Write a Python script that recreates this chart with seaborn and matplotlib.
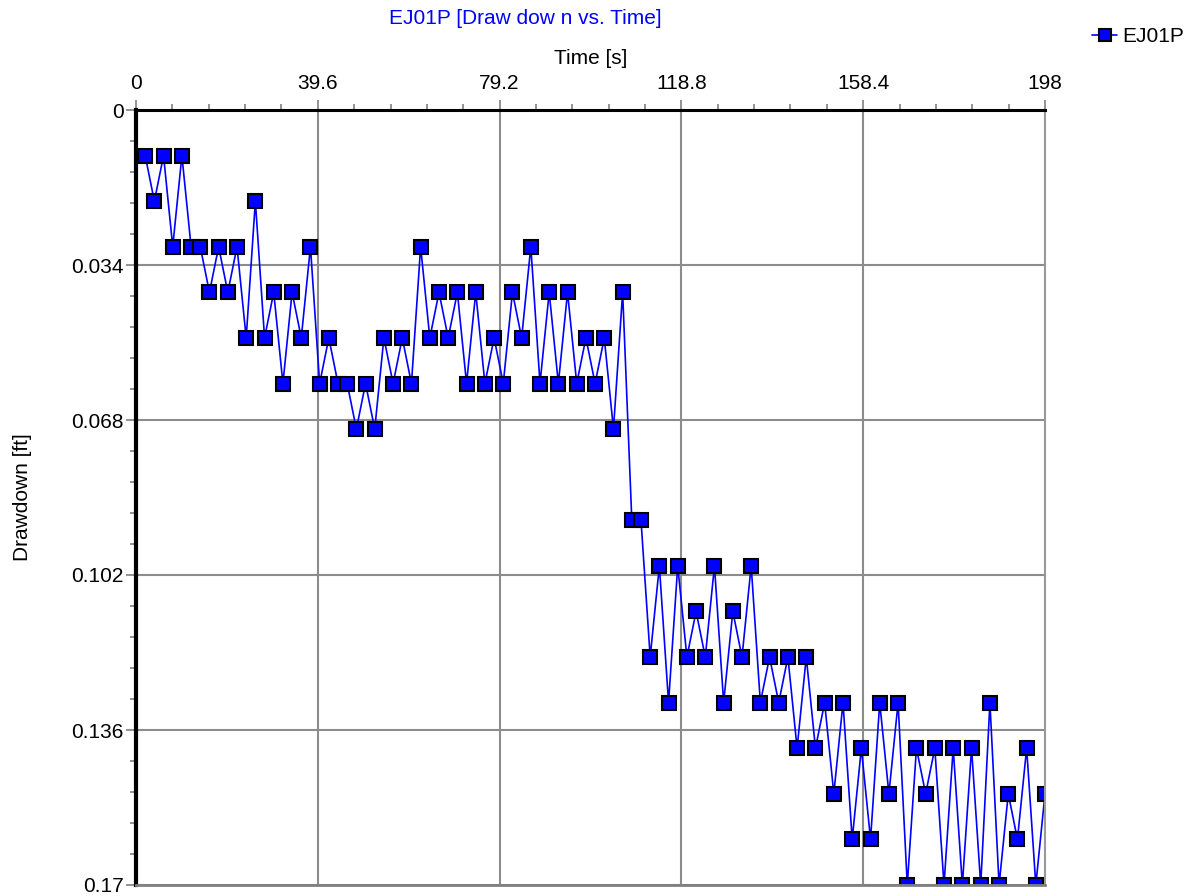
import matplotlib
matplotlib.use("Agg")
import matplotlib.pyplot as plt
import pandas as pd
import seaborn as sns
from matplotlib.ticker import AutoMinorLocator

# sample times [s] and drawdown [ft]
time_s = [
    2, 4, 6, 8, 10, 12, 14, 16, 18, 20, 22, 24, 26, 28, 30, 32, 34, 36, 38, 40,
    42, 44, 46, 48, 50, 52, 54, 56, 58, 60, 62, 64, 66, 68, 70, 72, 74, 76, 78, 80,
    82, 84, 86, 88, 90, 92, 94, 96, 98, 100, 102, 104, 106, 108, 110, 112, 114, 116, 118, 120,
    122, 124, 126, 128, 130, 132, 134, 136, 138, 140, 142, 144, 146, 148, 150, 152, 154, 156, 158, 160,
    162, 164, 166, 168, 170, 172, 174, 176, 178, 180, 182, 184, 186, 188, 190, 192, 194, 196, 198,
]
drawdown_ft = [
    0.01, 0.02, 0.01, 0.03, 0.01, 0.03, 0.03, 0.04, 0.03, 0.04,
    0.03, 0.05, 0.02, 0.05, 0.04, 0.06, 0.04, 0.05, 0.03, 0.06,
    0.05, 0.06, 0.06, 0.07, 0.06, 0.07, 0.05, 0.06, 0.05, 0.06,
    0.03, 0.05, 0.04, 0.05, 0.04, 0.06, 0.04, 0.06, 0.05, 0.06,
    0.04, 0.05, 0.03, 0.06, 0.04, 0.06, 0.04, 0.06, 0.05, 0.06,
    0.05, 0.07, 0.04, 0.09, 0.09, 0.12, 0.10, 0.13, 0.10, 0.12,
    0.11, 0.12, 0.10, 0.13, 0.11, 0.12, 0.10, 0.13, 0.12, 0.13,
    0.12, 0.14, 0.12, 0.14, 0.13, 0.15, 0.13, 0.16, 0.14, 0.16,
    0.13, 0.15, 0.13, 0.17, 0.14, 0.15, 0.14, 0.17, 0.14, 0.17,
    0.14, 0.17, 0.13, 0.17, 0.15, 0.16, 0.14, 0.17, 0.15,
]

x_ticks = [0, 39.6, 79.2, 118.8, 158.4, 198]
x_tick_labels = ["0", "39.6", "79.2", "118.8", "158.4", "198"]
y_ticks = [0, 0.034, 0.068, 0.102, 0.136, 0.17]
y_tick_labels = ["0", "0.034", "0.068", "0.102", "0.136", "0.17"]

df = pd.DataFrame({"Time [s]": time_s, "Drawdown [ft]": drawdown_ft})

sns.set_theme(style="white")
plt.rcParams["font.family"] = ["Liberation Sans", "DejaVu Sans"]
plt.rcParams["text.color"] = "black"
plt.rcParams["axes.labelcolor"] = "black"

W, H = 1199, 896
fig = plt.figure(figsize=(W / 100, H / 100), dpi=100)
ax = fig.add_axes([136 / W, 1 - 885 / H, (1045 - 136) / W, (885 - 110) / H])

sns.lineplot(
    data=df,
    x="Time [s]",
    y="Drawdown [ft]",
    ax=ax,
    color="#0000ff",
    linewidth=1.2,
    marker="s",
    markersize=10,
    markerfacecolor="#0000ff",
    markeredgecolor="black",
    markeredgewidth=1.5,
    label="EJ01P",
)

ax.set_xlim(0, 198)
ax.set_ylim(0.17, 0)
ax.xaxis.tick_top()
ax.xaxis.set_label_position("top")
ax.set_xticks(x_ticks)
ax.set_xticklabels(x_tick_labels)
ax.set_yticks(y_ticks)
ax.set_yticklabels(y_tick_labels)
ax.xaxis.set_minor_locator(AutoMinorLocator(5))
ax.yaxis.set_minor_locator(AutoMinorLocator(5))

ax.tick_params(axis="both", which="major", direction="out", length=7,
               width=1.2, color="#808080", labelsize=15, labelcolor="black")
ax.tick_params(axis="both", which="minor", direction="out", length=4,
               width=1.2, color="#808080")
ax.tick_params(axis="x", which="both", top=True, bottom=False, pad=5)
ax.tick_params(axis="y", which="both", left=True, right=False, pad=2)

ax.grid(True, which="major", color="#8c8c8c", linewidth=1.5)
ax.set_axisbelow(True)

ax.spines["top"].set_color("black")
ax.spines["top"].set_linewidth(2.2)
ax.spines["left"].set_color("black")
ax.spines["left"].set_linewidth(3)
ax.spines["bottom"].set_color("#808080")
ax.spines["bottom"].set_linewidth(2)
ax.spines["right"].set_color("#999999")
ax.spines["right"].set_linewidth(1.5)

ax.set_xlabel("Time [s]", fontsize=15, va="center", color="black")
ax.xaxis.set_label_coords(0.5, 1 + (110 - 59) / 775)
ax.set_ylabel("Drawdown [ft]", fontsize=15, va="center", color="black")
ax.yaxis.set_label_coords((22 - 136) / 909, 0.5)

fig.text(525 / W, 1 - 19 / H, "EJ01P [Draw dow n vs. Time]",
         color="#0000ff", fontsize=15, ha="center", va="center")

ax.legend(loc="center left", bbox_to_anchor=(1092 / W, 1 - 37 / H),
          bbox_transform=fig.transFigure, frameon=False, fontsize=15,
          handlelength=1.2, handletextpad=0.25, borderpad=0, borderaxespad=0,
          markerscale=0.9)

fig.savefig("out.png", dpi=100)
